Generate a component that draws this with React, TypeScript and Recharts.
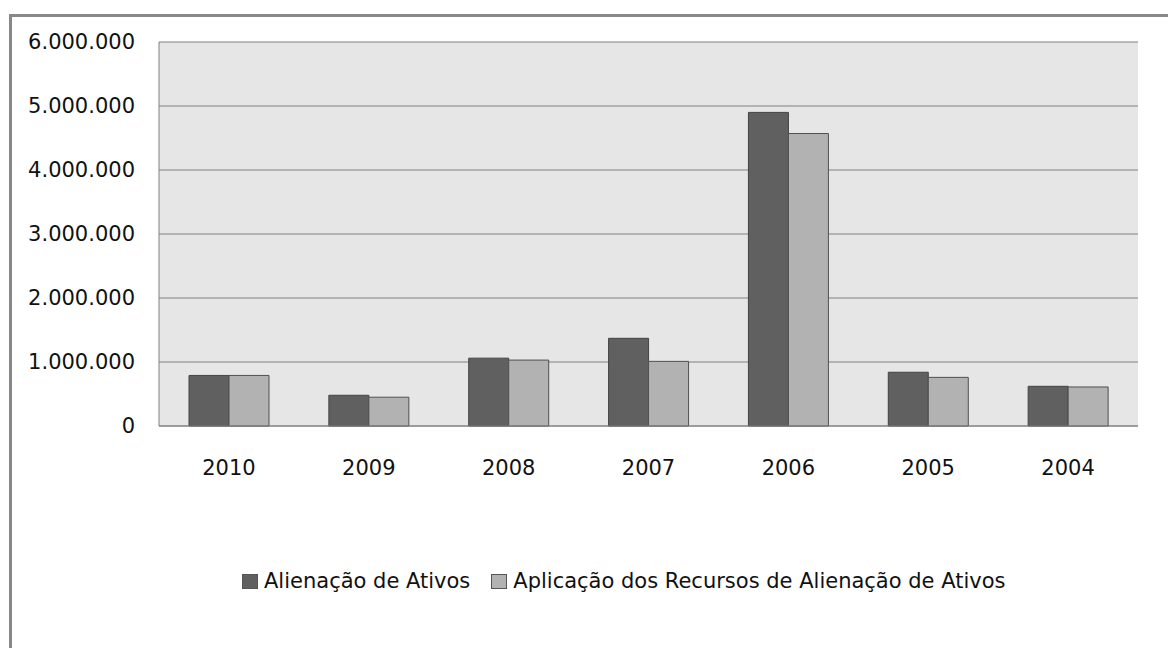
import React from "react";
import { BarChart, Bar, XAxis, YAxis, CartesianGrid } from "recharts";

const years = ["2010", "2009", "2008", "2007", "2006", "2005", "2004"];
const alienacao = [790000, 480000, 1060000, 1370000, 4900000, 840000, 620000];
const aplicacao = [790000, 450000, 1030000, 1010000, 4570000, 760000, 610000];
const yTicks = [0, 1000000, 2000000, 3000000, 4000000, 5000000, 6000000];

const seriesNames = ["Alienação de Ativos", "Aplicação dos Recursos de Alienação de Ativos"];
const seriesColors = ["#606060", "#b2b2b2"];

const data = years.map((year, i) => ({
  year,
  alienacao: alienacao[i],
  aplicacao: aplicacao[i],
}));

// thousands separator with dots, like the original spreadsheet
const formatNumber = (v: number) => String(v).replace(/\B(?=(\d{3})+(?!\d))/g, ".");

const font = "'DejaVu Sans', sans-serif";

export default function App() {
  return (
    <div style={{ position: "absolute", left: 0, top: 0, width: 1168, height: 648, background: "#fff", overflow: "hidden" }}>
      {/* frame */}
      <div
        style={{
          position: "absolute",
          left: 9,
          top: 14,
          width: 1200,
          height: 700,
          borderLeft: "3px solid #888",
          borderTop: "3px solid #888",
        }}
      />
      <div style={{ position: "absolute", left: 0, top: 0 }}>
        <BarChart
          width={1168}
          height={648}
          data={data}
          margin={{ top: 42, right: 30, left: 9, bottom: 162 }}
          barGap={0}
          barSize={40}
        >
          <CartesianGrid vertical={false} stroke="#808080" fill="#e6e6e6" />
          <XAxis
            dataKey="year"
            height={60}
            axisLine={{ stroke: "#808080" }}
            tickLine={false}
            tickSize={6}
            tickMargin={28}
            tick={{ fill: "#111", fontSize: 21, fontFamily: font }}
          />
          <YAxis
            width={150}
            domain={[0, 6000000]}
            ticks={yTicks}
            interval={0}
            tickFormatter={formatNumber}
            axisLine={{ stroke: "#808080" }}
            tickLine={false}
            tickSize={6}
            tickMargin={18}
            tick={{ fill: "#111", fontSize: 21, fontFamily: font }}
          />
          <Bar dataKey="alienacao" name={seriesNames[0]} fill={seriesColors[0]} stroke="#444" strokeWidth={1} isAnimationActive={false} />
          <Bar dataKey="aplicacao" name={seriesNames[1]} fill={seriesColors[1]} stroke="#505050" strokeWidth={1} isAnimationActive={false} />
        </BarChart>
      </div>
      {/* legend */}
      <div
        style={{
          position: "absolute",
          left: 242,
          top: 569,
          display: "flex",
          alignItems: "center",
          fontFamily: font,
          fontSize: 21,
          color: "#111",
          whiteSpace: "nowrap",
        }}
      >
        {seriesNames.map((name, i) => (
          <div key={name} style={{ display: "flex", alignItems: "center", marginRight: i === 0 ? 21 : 0 }}>
            <span
              style={{
                display: "inline-block",
                width: 14,
                height: 13,
                background: seriesColors[i],
                border: "1px solid #555",
                marginRight: 6,
              }}
            />
            <span>{name}</span>
          </div>
        ))}
      </div>
    </div>
  );
}
